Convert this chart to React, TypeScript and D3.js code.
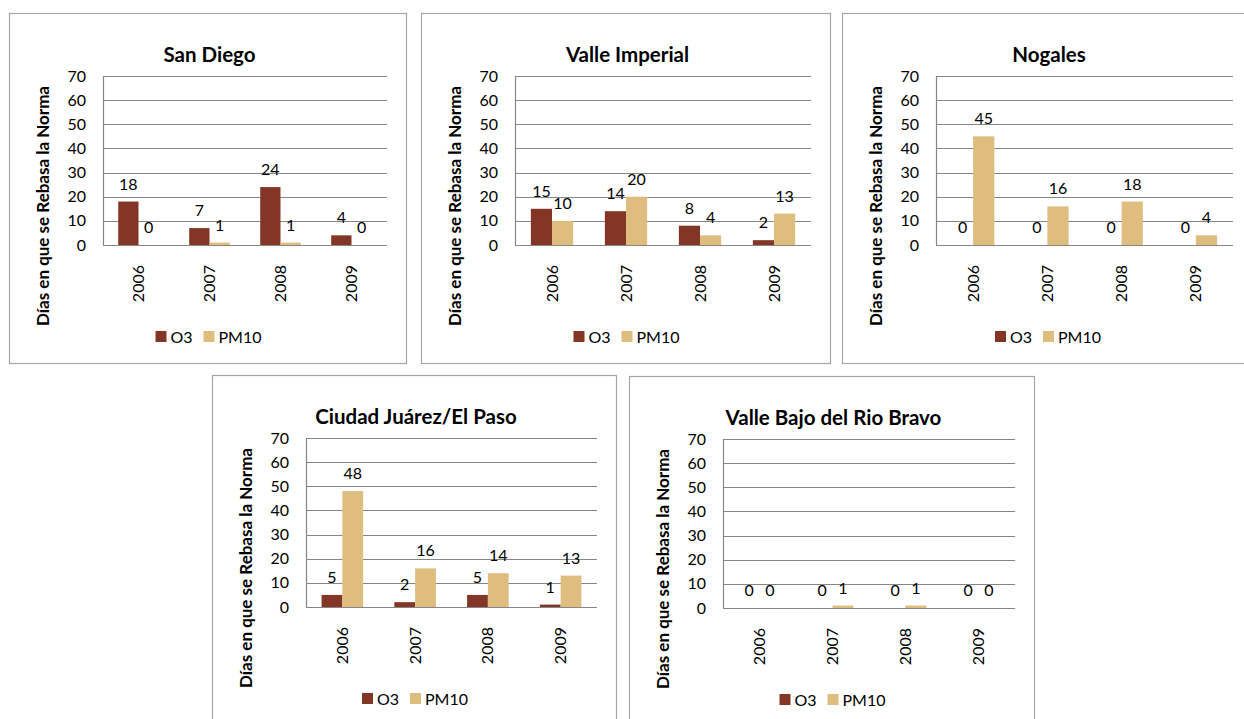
import React, { useEffect, useRef } from "react";
import * as d3 from "d3";

// Chart data
const years = ["2006", "2007", "2008", "2009"];
const sites = [
  "San Diego",
  "Valle Imperial",
  "Nogales",
  "Ciudad Juárez/El Paso",
  "Valle Bajo del Rio Bravo",
];
const seriesNames = ["O3", "PM10"];
const o3Values = [
  [18, 7, 24, 4],
  [15, 14, 8, 2],
  [0, 0, 0, 0],
  [5, 2, 5, 1],
  [0, 0, 0, 0],
];
const pm10Values = [
  [0, 1, 1, 0],
  [10, 20, 4, 13],
  [45, 16, 18, 4],
  [48, 16, 14, 13],
  [0, 1, 1, 0],
];
const yTicks = [0, 10, 20, 30, 40, 50, 60, 70];
const yTitle = "Días en que se Rebasa la Norma";

// Panel boxes (layout only)
const panels = [
  { x: 9, y: 13, w: 397, h: 350 },
  { x: 421, y: 13, w: 409, h: 350 },
  { x: 842, y: 13, w: 410, h: 350 },
  { x: 212, y: 375, w: 404, h: 350 },
  { x: 629, y: 376, w: 405, h: 350 },
];

const colors = ["#843626", "#DEBD7E"];
const FONT = "Lato, 'Open Sans', sans-serif";

const App = () => {
  const ref = useRef<SVGSVGElement>(null);

  useEffect(() => {
    document.body.style.margin = "0";
    const svg = d3.select(ref.current);
    svg.selectAll("*").remove();

    panels.forEach((p, i) => {
      const g = svg.append("g").attr("transform", `translate(${p.x},${p.y})`);

      // panel border
      g.append("rect")
        .attr("x", 0.5)
        .attr("y", 0.5)
        .attr("width", p.w)
        .attr("height", p.h)
        .attr("fill", "#fff")
        .attr("stroke", "#a6a6a6")
        .attr("stroke-width", 1.2);

      const left = 94;
      const right = p.w - 19;
      const top = 63;
      const bottom = top + 169;

      const x = d3.scaleBand<string>().domain(years).range([left, right]).paddingInner(0.4286).paddingOuter(0.2143);
      const xs = d3.scaleBand<string>().domain(seriesNames).range([0, x.bandwidth()]);
      const y = d3.scaleLinear().domain([0, 70]).range([bottom, top]);

      // title
      g.append("text")
        .attr("x", p.w / 2 + 2)
        .attr("y", 49)
        .attr("text-anchor", "middle")
        .attr("font-family", FONT)
        .attr("font-weight", 700)
        .attr("font-size", 20.5)
        .attr("fill", "#000")
        .text(sites[i]);

      // gridlines
      g.selectAll(".grid")
        .data(yTicks.slice(1))
        .enter()
        .append("line")
        .attr("x1", left)
        .attr("x2", right)
        .attr("y1", (d) => Math.round(y(d)) + 0.5)
        .attr("y2", (d) => Math.round(y(d)) + 0.5)
        .attr("stroke", "#868686")
        .attr("stroke-width", 1.2);

      // y tick labels
      g.selectAll(".ytick")
        .data(yTicks)
        .enter()
        .append("text")
        .attr("x", left - 17)
        .attr("y", (d) => y(d) + 5.5)
        .attr("text-anchor", "end")
        .attr("font-family", FONT)
        .attr("font-size", 16)
        .attr("fill", "#000")
        .text((d) => d);

      // bars
      const series = [o3Values[i], pm10Values[i]];
      series.forEach((vals, s) => {
        g.selectAll(`.bar${s}`)
          .data(vals)
          .enter()
          .append("rect")
          .attr("x", (_, k) => (x(years[k]) as number) + (xs(seriesNames[s]) as number))
          .attr("width", xs.bandwidth())
          .attr("y", (d) => y(d))
          .attr("height", (d) => bottom - y(d))
          .attr("fill", colors[s]);

        g.selectAll(`.lbl${s}`)
          .data(vals)
          .enter()
          .append("text")
          .attr("x", (_, k) => (x(years[k]) as number) + (xs(seriesNames[s]) as number) + xs.bandwidth() / 2)
          .attr("y", (d) => y(d) - 12)
          .attr("text-anchor", "middle")
          .attr("font-family", FONT)
          .attr("font-size", 16)
          .attr("fill", "#000")
          .text((d) => d);
      });

      // axes lines
      g.append("line")
        .attr("x1", left + 0.5)
        .attr("x2", left + 0.5)
        .attr("y1", top)
        .attr("y2", bottom)
        .attr("stroke", "#868686")
        .attr("stroke-width", 1.2);
      g.append("line")
        .attr("x1", left)
        .attr("x2", right)
        .attr("y1", bottom + 0.5)
        .attr("y2", bottom + 0.5)
        .attr("stroke", "#868686")
        .attr("stroke-width", 1.2);

      // year labels (rotated)
      g.selectAll(".year")
        .data(years)
        .enter()
        .append("text")
        .attr("transform", (d) => `translate(${(x(d) as number) + x.bandwidth() / 2 + 5.5},${bottom + 20}) rotate(-90)`)
        .attr("text-anchor", "end")
        .attr("font-family", FONT)
        .attr("font-size", 16)
        .attr("fill", "#000")
        .text((d) => d);

      // y axis title
      g.append("text")
        .attr("transform", `translate(40,193) rotate(-90)`)
        .attr("text-anchor", "middle")
        .attr("font-family", FONT)
        .attr("font-weight", 700)
        .attr("font-size", 17)
        .attr("fill", "#000")
        .text(yTitle);

      // legend
      const lg = g.append("g").attr("transform", `translate(${p.w / 2 - 52},323)`);
      seriesNames.forEach((name, s) => {
        const ox = s === 0 ? 0 : 48;
        lg.append("rect")
          .attr("x", ox)
          .attr("y", -5)
          .attr("width", 11)
          .attr("height", 11)
          .attr("fill", colors[s]);
        lg.append("text")
          .attr("x", ox + 15)
          .attr("y", 6.5)
          .attr("font-family", FONT)
          .attr("font-size", 16)
          .attr("fill", "#000")
          .text(name);
      });
    });
  }, []);

  return <svg ref={ref} width={1244} height={719} style={{ display: "block", background: "#fff" }} />;
};

export default App;
